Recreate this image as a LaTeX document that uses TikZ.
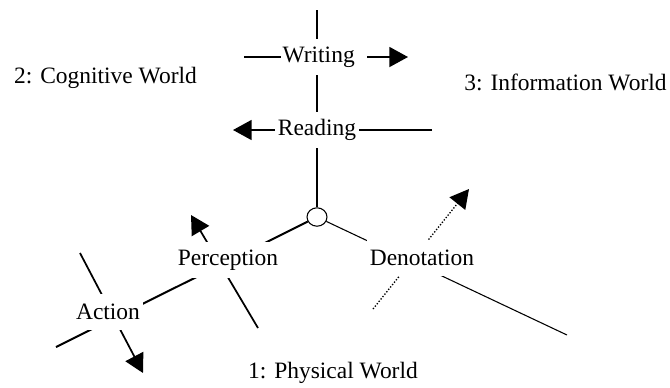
\documentclass[tikz,border=0pt]{standalone}
\usepackage{fontspec}
\setmainfont{Liberation Serif}
\usetikzlibrary{arrows.meta, shapes.geometric}
\tikzset{
  lbl/.style={fill=white, inner xsep=2.5pt, inner ysep=0pt, minimum height=27pt},
  bigarrow/.style={-{Triangle[length=14pt,width=15pt]}}
}

\begin{document}
\begin{tikzpicture}[x=0.75pt,y=-0.75pt,font=\fontsize{17.6}{21}\selectfont]
  \useasboundingbox (0,0) rectangle (670,387);
  \node[ellipse,draw,line width=0.8pt,fill=white,minimum width=15pt,minimum height=13.8pt,inner sep=0pt] (hub) at (317,217) {};
  \coordinate (vtop) at (317,10);
  \coordinate (wfrom) at (244,57);
  \coordinate (wto) at (408,57);
  \coordinate (rfrom) at (432,130);
  \coordinate (rto) at (233,130);
  \coordinate (lend) at (56,347);
  \coordinate (dend) at (567,335);
  \coordinate (pfrom) at (258,328);
  \coordinate (pto) at (191,215);
  \coordinate (afrom) at (80,253);
  \coordinate (ato) at (143,373);
  \coordinate (dfrom) at (373,309);
  \coordinate (dto) at (469,189);
  % vertical line
  \draw[line width=2pt] (vtop) -- (hub);
  % writing and reading
  \draw[line width=1.3pt,bigarrow] (wfrom) -- (wto);
  \draw[line width=1.3pt,bigarrow] (rfrom) -- (rto);
  % down to the physical world
  \draw[line width=1.5pt] (hub) -- (lend);
  \draw[line width=0.8pt] (hub) -- (dend);
  % perception and action
  \draw[line width=1.3pt,bigarrow] (pfrom) -- (pto);
  \draw[line width=1.3pt,bigarrow] (afrom) -- (ato);
  % denotation
  \draw[line width=1pt,dash pattern=on 1pt off 1.3pt,bigarrow] (dfrom) -- (dto);
  % labels over the lines
  \node[lbl,inner xsep=1.5pt,text width=62pt,align=left] (writing) at (324,57) {Writing};
  \node[lbl] (reading) at (317,130) {Reading};
  \node[lbl] (perception) at (228,260) {Perception};
  \node[lbl] (action) at (108,312) {Action};
  \node[lbl] (denotation) at (422,258) {Denotation};
  % the three worlds
  \node (cognitive) at (105.5,78) {2: Cognitive World};
  \node (information) at (565.5,82.5) {3: Information World};
  \node (physical) at (333,373) {1: Physical World};
\end{tikzpicture}
\end{document}
